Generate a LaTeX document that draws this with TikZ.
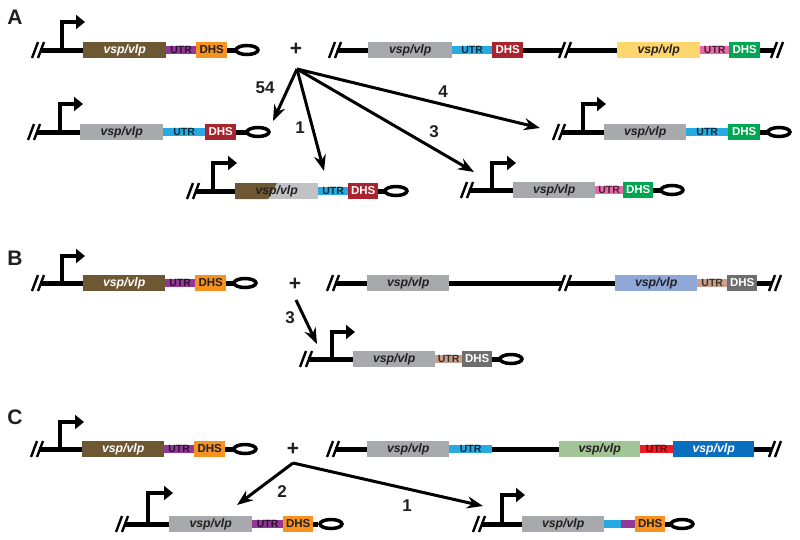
\documentclass[tikz,border=0pt]{standalone}
\usepackage{fontspec}
\setmainfont{Liberation Sans}
\usetikzlibrary{arrows.meta}
\definecolor{brownG}{RGB}{110,88,52}
\definecolor{grayG}{RGB}{167,169,172}
\definecolor{lgrayG}{RGB}{192,194,196}
\definecolor{purpU}{RGB}{146,56,151}
\definecolor{orangeD}{RGB}{245,146,32}
\definecolor{cyanU}{RGB}{39,170,225}
\definecolor{redD}{RGB}{168,36,46}
\definecolor{yellowG}{RGB}{255,214,110}
\definecolor{pinkU}{RGB}{232,106,170}
\definecolor{greenD}{RGB}{0,166,81}
\definecolor{blueG}{RGB}{143,168,216}
\definecolor{tanU}{RGB}{200,160,140}
\definecolor{grayD}{RGB}{110,110,113}
\definecolor{greenG}{RGB}{163,196,150}
\definecolor{redU}{RGB}{237,28,36}
\definecolor{blueH}{RGB}{10,110,190}
\definecolor{txt}{RGB}{35,31,32}
\newcommand\gfont{\fontsize{12.3}{13}\selectfont\bfseries\itshape}
\newcommand\ufont{\fontsize{10.5}{11}\selectfont\bfseries}
\newcommand\dfont{\fontsize{11.5}{12}\selectfont\bfseries}
\newcommand\lfont{\fontsize{21}{21}\selectfont\bfseries}
\newcommand\nfont{\fontsize{17}{17}\selectfont\bfseries}
\newcommand\gb[6]{\node[#5, minimum width={(#3)-(#2)}, anchor=west] (#1) at (#2,#4) {#6};}
\newcommand\brk[2]{%
  \draw[white, line width=3pt] (#1-3,#2+9) -- (#1+3,#2-9);
  \draw[cutst] (#1-6,#2+8) -- (#1,#2-8);
  \draw[cutst] (#1,#2+8) -- (#1+6,#2-8);}
\newcommand\prom[4]{\draw[promst] (#1,#2) -- (#1,#3) -- (#4,#3);}
\newcommand\lp[3]{\draw[loopst] (#2,#3) ellipse [x radius=11pt, y radius=4.5pt]; \coordinate (#1) at (#2,#3);}
\tikzset{
  bb/.style={line width=5pt, black},
  cutst/.style={line width=2.4pt, black},
  promst/.style={line width=3.5pt, black, line join=miter, -{Triangle[length=9pt,width=14pt]}},
  loopst/.style={line width=3.5pt, draw=black, fill=white},
  gene/.style={minimum height=16pt, inner sep=0pt, font=\gfont, text=txt},
  utr/.style={minimum height=8pt, inner sep=0pt, font=\ufont},
  dhs/.style={minimum height=16pt, inner sep=0pt, font=\dfont},
  conn/.style={line width=3pt, black, -{Stealth[length=16pt,width=12pt]}},
  lab/.style={font=\lfont, text=txt},
  num/.style={font=\nfont, text=txt},
}
\begin{document}
\begin{tikzpicture}[x=1pt,y=-1pt]
\useasboundingbox (0,0) rectangle (800,539);
\fill[white] (0,0) rectangle (800,539);
% ================= Panel A =================
\node[lab] (labA) at (15,17) {A};
% row 1 left
\draw[bb] (40,50) -- (238,50);
\brk{38}{50}
\prom{62}{50}{22}{85}
\gb{a1g}{83}{166}{50}{gene,fill=brownG,text=white}{vsp/vlp}
\gb{a1u}{166}{196}{50}{utr,fill=purpU,text=purpU!30!black}{UTR}
\gb{a1d}{196}{227}{50}{dhs,fill=orangeD,text=txt}{DHS}
\lp{a1l}{247}{50}
\node[font=\lfont, text=txt] (plusA) at (296,49) {+};
% row 1 right
\draw[bb] (336,50) -- (562,50);
\draw[bb] (568,50) -- (774,50);
\brk{335}{50}
\brk{565}{50}
\brk{777}{50}
\gb{a1rg}{368}{452}{50}{gene,fill=grayG}{vsp/vlp}
\gb{a1ru}{452}{492}{50}{utr,fill=cyanU,text=cyanU!25!black}{UTR}
\gb{a1rd}{492}{523}{50}{dhs,fill=redD,text=white}{DHS}
\gb{a1yg}{617}{700}{50}{gene,fill=yellowG}{vsp/vlp}
\gb{a1yu}{700}{729}{50}{utr,fill=pinkU,text=pinkU!30!black}{UTR}
\gb{a1yd}{729}{760}{50}{dhs,fill=greenD,text=white}{DHS}
% row 2 left
\draw[bb] (36,132) -- (248,132);
\brk{34}{132}
\prom{60}{132}{104}{83}
\gb{a2g}{80}{163}{132}{gene,fill=grayG}{vsp/vlp}
\gb{a2u}{163}{205}{132}{utr,fill=cyanU,text=cyanU!25!black}{UTR}
\gb{a2d}{205}{236}{132}{dhs,fill=redD,text=white}{DHS}
\lp{a2l}{258}{132}
% row 2 right
\draw[bb] (561,132) -- (768,132);
\brk{559}{132}
\prom{583}{132}{104}{606}
\gb{a2rg}{604}{686}{132}{gene,fill=grayG}{vsp/vlp}
\gb{a2ru}{686}{728}{132}{utr,fill=cyanU,text=cyanU!25!black}{UTR}
\gb{a2rd}{728}{760}{132}{dhs,fill=greenD,text=white}{DHS}
\lp{a2rl}{779}{132}
% row 3 left (hybrid)
\draw[bb] (195,191) -- (385,191);
\brk{193}{191}
\prom{213}{191}{163}{237}
\fill[lgrayG] (235,183) rectangle (318,199);
\fill[brownG] (235,183) -- (277,183) -- (268,199) -- (235,199) -- cycle;
\gb{a3g}{235}{318}{191}{gene}{vsp/vlp}
\gb{a3u}{318}{348}{191}{utr,fill=cyanU,text=cyanU!25!black}{UTR}
\gb{a3d}{348}{378}{191}{dhs,fill=redD,text=white}{DHS}
\lp{a3l}{396}{191}
% row 3 right
\draw[bb] (469,190) -- (661,190);
\brk{467}{190}
\prom{492}{190}{163}{516}
\gb{a3rg}{513}{595}{190}{gene,fill=grayG}{vsp/vlp}
\gb{a3ru}{595}{623}{190}{utr,fill=pinkU,text=pinkU!30!black}{UTR}
\gb{a3rd}{623}{653}{190}{dhs,fill=greenD,text=white}{DHS}
\lp{a3rl}{672}{190}
% arrows A
\coordinate (sA) at (297,69);
\coordinate (tA54) at (273,121);
\coordinate (tA1) at (324,171);
\coordinate (tA3) at (474,172);
\coordinate (tA4) at (540,128);
\draw[conn] (sA) -- (tA54);
\draw[conn] (sA) -- (tA1);
\draw[conn] (sA) -- (tA3);
\draw[conn] (sA) -- (tA4);
\node[num] (nA54) at (265,88) {54};
\node[num] (nA1) at (300,128) {1};
\node[num] (nA3) at (434,132) {3};
\node[num] (nA4) at (443,92) {4};
% ================= Panel B =================
\node[lab] (labB) at (15,258) {B};
\draw[bb] (40,283) -- (236,283);
\brk{38}{283}
\prom{62}{283}{256}{85}
\gb{b1g}{83}{165}{283}{gene,fill=brownG,text=white}{vsp/vlp}
\gb{b1u}{165}{195}{283}{utr,fill=purpU,text=purpU!30!black}{UTR}
\gb{b1d}{195}{226}{283}{dhs,fill=orangeD,text=txt}{DHS}
\lp{b1l}{245}{283}
\node[font=\lfont, text=txt] (plusB) at (295,284) {+};
\draw[bb] (335,283) -- (562,283);
\draw[bb] (568,283) -- (772,283);
\brk{333}{283}
\brk{565}{283}
\brk{775}{283}
\gb{b1rg}{367}{449}{283}{gene,fill=grayG}{vsp/vlp}
\gb{b1bg}{615}{697}{283}{gene,fill=blueG}{vsp/vlp}
\gb{b1bu}{697}{727}{283}{utr,fill=tanU,text=tanU!30!black}{UTR}
\gb{b1bd}{727}{757}{283}{dhs,fill=grayD,text=white}{DHS}
% lower row B
\draw[bb] (308,359) -- (500,359);
\brk{306}{359}
\prom{332}{359}{332}{355}
\gb{b2g}{353}{435}{359}{gene,fill=grayG}{vsp/vlp}
\gb{b2u}{435}{462}{359}{utr,fill=tanU,text=tanU!30!black}{UTR}
\gb{b2d}{462}{492}{359}{dhs,fill=grayD,text=white}{DHS}
\lp{b2l}{511}{359}
\coordinate (sB) at (296,300);
\coordinate (tB3) at (317,344);
\draw[conn] (sB) -- (tB3);
\node[num] (nB3) at (290,318) {3};
% ================= Panel C =================
\node[lab] (labC) at (15,417) {C};
\draw[bb] (39,449) -- (236,449);
\brk{37}{449}
\prom{60}{449}{422}{84}
\gb{c1g}{82}{164}{449}{gene,fill=brownG,text=white}{vsp/vlp}
\gb{c1u}{164}{194}{449}{utr,fill=purpU,text=purpU!30!black}{UTR}
\gb{c1d}{194}{225}{449}{dhs,fill=orangeD,text=txt}{DHS}
\lp{c1l}{245}{449}
\node[font=\lfont, text=txt] (plusC) at (293,449) {+};
\draw[bb] (335,449) -- (772,449);
\brk{333}{449}
\brk{775}{449}
\gb{c1rg}{367}{449}{449}{gene,fill=grayG}{vsp/vlp}
\gb{c1ru}{449}{492}{449}{utr,fill=cyanU,text=cyanU!25!black}{UTR}
\gb{c1gg}{559}{640}{449}{gene,fill=greenG}{vsp/vlp}
\gb{c1gu}{640}{673}{449}{utr,fill=redU,text=redU!40!black}{UTR}
\gb{c1bg}{673}{754}{449}{gene,fill=blueH,text=white}{vsp/vlp}
% lower row C left
\draw[bb] (124,524) -- (318,524);
\brk{122}{524}
\prom{148}{524}{493}{173}
\gb{c2g}{169}{252}{524}{gene,fill=grayG}{vsp/vlp}
\gb{c2u}{252}{283}{524}{utr,fill=purpU,text=purpU!30!black}{UTR}
\gb{c2d}{283}{313}{524}{dhs,fill=orangeD,text=txt}{DHS}
\lp{c2l}{331}{524}
% lower row C right
\draw[bb] (481,524) -- (670,524);
\brk{479}{524}
\prom{502}{524}{495}{525}
\gb{c3g}{522}{604}{524}{gene,fill=grayG}{vsp/vlp}
\gb{c3u}{604}{621}{524}{utr,fill=cyanU}{}
\gb{c3p}{621}{635}{524}{utr,fill=purpU}{}
\gb{c3d}{635}{665}{524}{dhs,fill=orangeD,text=txt}{DHS}
\lp{c3l}{682}{524}
\coordinate (sC) at (293,463);
\coordinate (tC2) at (237,505);
\coordinate (tC1) at (483,506);
\draw[conn] (sC) -- (tC2);
\draw[conn] (sC) -- (tC1);
\node[num] (nC2) at (282,492) {2};
\node[num] (nC1) at (407,506) {1};
\end{tikzpicture}
\end{document}
